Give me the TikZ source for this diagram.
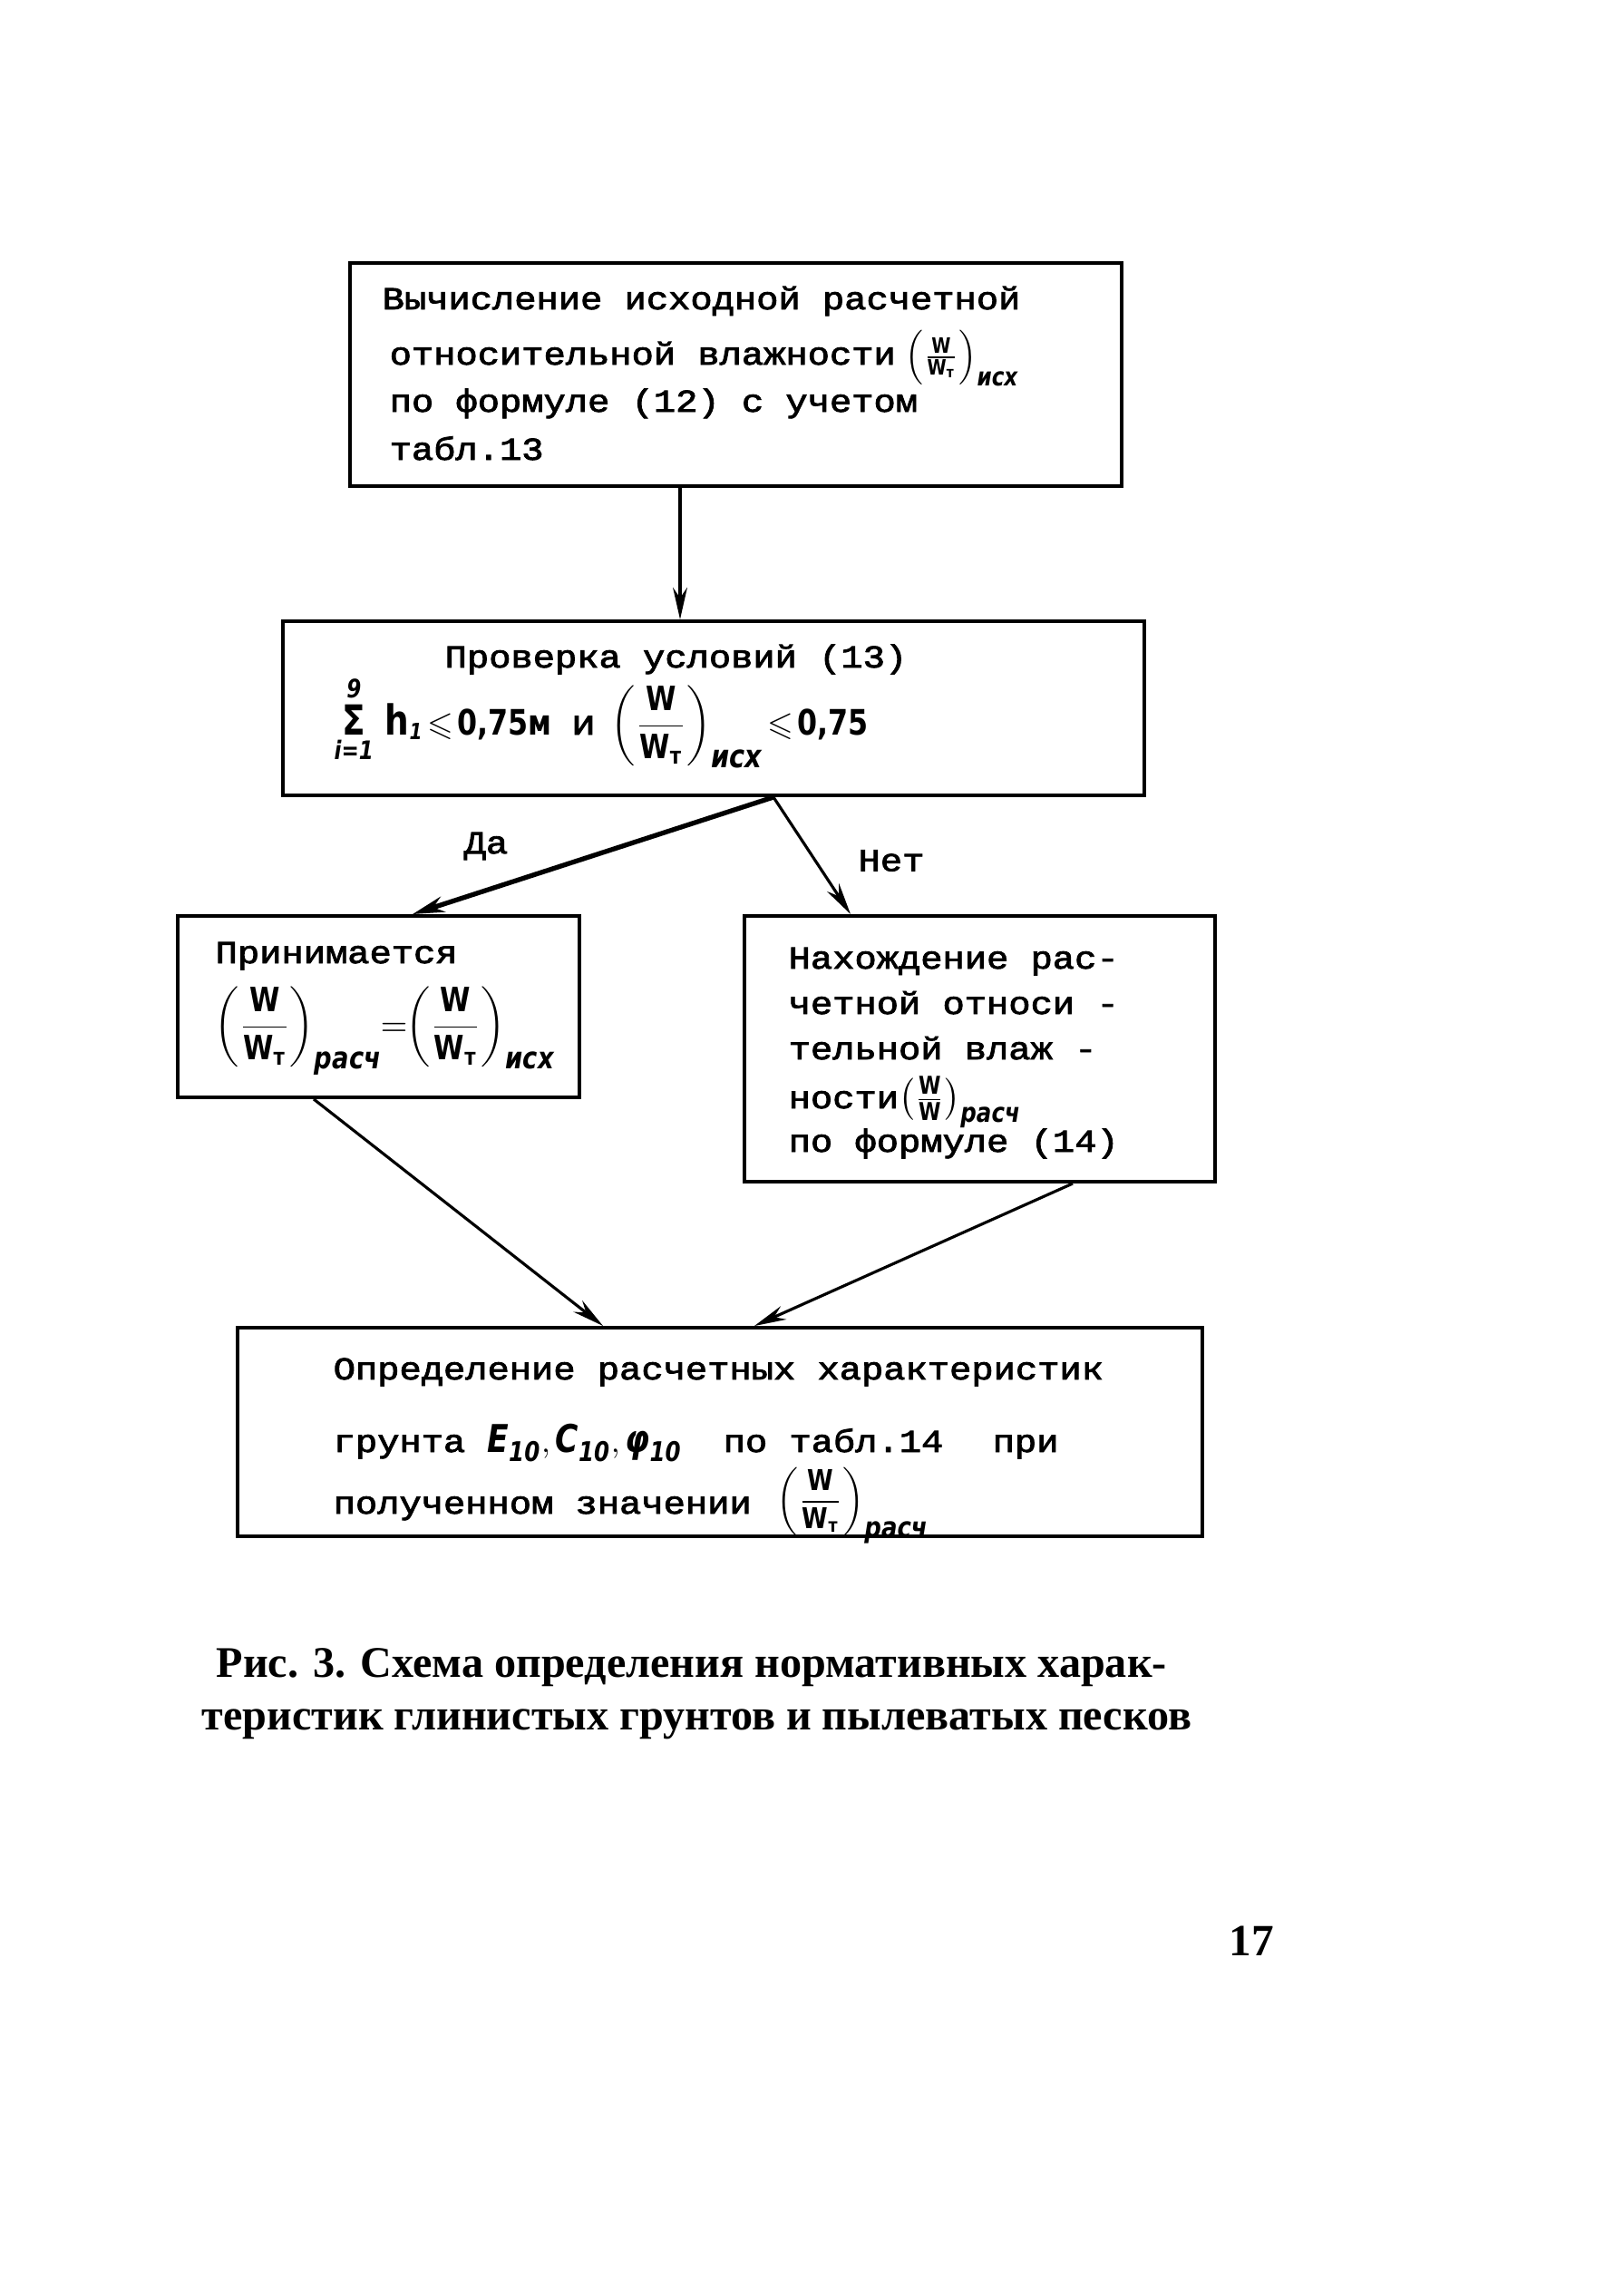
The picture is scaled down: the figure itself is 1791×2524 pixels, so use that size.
\documentclass[tikz,border=0pt]{standalone}
\usepackage{amsmath,amssymb}
\usepackage{fontspec}
\setmainfont{Liberation Mono}[FakeStretch=1.15,FakeBold=2.5]
\newfontfamily\hw{DejaVu Sans}[FakeStretch=0.82]
\newfontfamily\capfont{Liberation Serif}
\usetikzlibrary{arrows.meta,calc}
\newcommand{\hf}{\hw\bfseries}
\newcommand{\hwW}{\text{\hf W}}
\newcommand{\sub}[2][8]{\mbox{\hw\bfseries\itshape\fontsize{#1}{#1}\selectfont #2}}
\newcommand{\WW}[2][8]{\left(\frac{\hwW}{\hwW_{\text{\hf т}}}\right)_{\sub[#1]{#2}}}
\newcommand{\WWd}[2][8]{\left(\dfrac{\hwW}{\hwW_{\text{\hf т}}}\right)_{\sub[#1]{#2}}}
\begin{document}
\begin{tikzpicture}[x=0.01cm,y=-0.01cm,
  box/.style={draw,line width=1.1pt,inner sep=0pt,rectangle},
  txt/.style={anchor=base west,inner sep=0pt,font=\fontsize{10}{12}\selectfont},
  lbl/.style={inner sep=0pt,font=\fontsize{10}{12}\selectfont},
  arr/.style={line width=0.9pt,-{Stealth[length=10pt,width=4.5pt]}},
  arrb/.style={line width=1.5pt,-{Stealth[length=10pt,width=5pt]}},
  captxt/.style={anchor=base west,inner sep=0pt,font=\capfont\bfseries\fontsize{13.7}{16}\selectfont}]
\fill[white] (0,0) rectangle (1791,2524);
\useasboundingbox (0,0) rectangle (1791,2524);

% boxes
\node[box,minimum width=8.51cm,minimum height=2.46cm] (b1) at (811.5,413) {};
\node[box,minimum width=9.50cm,minimum height=1.92cm] (b2) at (787,781) {};
\node[box,minimum width=4.43cm,minimum height=2.00cm] (b3) at (417.5,1110) {};
\node[box,minimum width=5.19cm,minimum height=2.93cm] (b4) at (1080.5,1156.5) {};
\node[box,minimum width=10.64cm,minimum height=2.30cm] (b5) at (794,1579) {};

% box 1 text
\node[txt] (t11) at (421,341) {Вычисление исходной расчетной};
\node[txt] (t12) at (429,402) {относительной влажности\hspace{3pt}{\fontsize{9.5}{11}\selectfont$\WW{исх}$}};
\node[txt] (t13) at (429,454) {по формуле (12) с учетом};
\node[txt] (t14) at (429,507) {табл.13};

% box 2 text
\node[txt] (t21) at (490,736) {Проверка условий (13)};
\node[txt,font=\fontsize{10.5}{13}\selectfont] (t22) at (368,810)
  {$\mathop{\text{\hf\fontsize{13}{13}\selectfont Σ}}\limits_{\sub[8]{i=1}}^{\sub[8]{9}}
   \,\text{\hf\fontsize{13}{13}\selectfont h}_{\sub[7]{1}}\!\leqslant\!\text{\hf\fontsize{11}{13}\selectfont 0,75м}\;\;\text{\fontsize{11}{13}\selectfont и}\;\WWd[10]{исх}\!\leqslant\!\text{\hf\fontsize{11}{13}\selectfont 0,75}$};

% box 3 text
\node[txt] (t31) at (237,1062) {Принимается};
\node[txt,font=\fontsize{10.5}{13}\selectfont] (t32) at (236,1142)
  {$\WWd[9.5]{расч}\!\!=\!\!\WWd[9.5]{исх}$};

% box 4 text
\node[txt] (t41) at (869,1068) {Нахождение рас-};
\node[txt] (t42) at (869,1118) {четной относи -};
\node[txt] (t43) at (869,1168) {тельной  влаж -};
\node[txt] (t44) at (869,1222) {ности{\fontsize{11}{13}\selectfont$\left(\frac{\hwW}{\hwW}\right)_{\sub[8.5]{расч}}$}};
\node[txt] (t45) at (869,1270) {по формуле (14)};

% box 5 text
\node[txt] (t51) at (367,1521) {Определение расчетных характеристик};
\node[txt] (t52) at (367,1601) {грунта $\text{\hf\itshape\fontsize{12}{12}\selectfont E}_{\sub[8.5]{10}},\text{\hf\itshape\fontsize{12}{12}\selectfont C}_{\sub[8.5]{10}},\text{\hf\itshape\fontsize{12}{12}\selectfont φ}_{\sub[8.5]{10}}$};
\node[txt] (t53) at (797,1601) {по табл.14};
\node[txt] (t54) at (1094,1601) {при};
\node[txt] (t55) at (367,1669) {полученном значении};
\node[txt,font=\fontsize{9}{11}\selectfont] (t56) at (856,1664) {$\WWd[9]{расч}$};

% connectors
\draw[arr] ($(b1.south)+(-61.5,0)$) -- ($(b2.north)+(-37,0)$);
\draw[arrb] ($(b2.south)+(66,0)$) -- ($(b3.north)+(37.5,0)$);
\draw[arr] ($(b2.south)+(66,0)$) -- ($(b4.north)+(-142.5,0)$);
\draw[arr] ($(b3.south)+(-71.5,0)$) -- ($(b5.north)+(-129,0)$);
\draw[arr] ($(b4.south)+(102.5,0)$) -- ($(b5.north)+(38,0)$);

% labels
\node[lbl] (da) at (536,933) {Да};
\node[lbl] (net) at (983,949) {Нет};

% caption
\node[captxt] (c1) at (238,1849) {Рис. 3. Схема определения нормативных харак-};
\node[captxt] (c2) at (222,1907) {теристик глинистых грунтов и пылеватых песков};
\node[inner sep=0pt,font=\capfont\bfseries\fontsize{14}{16}\selectfont] (pg) at (1380,2140) {17};
\end{tikzpicture}
\end{document}
